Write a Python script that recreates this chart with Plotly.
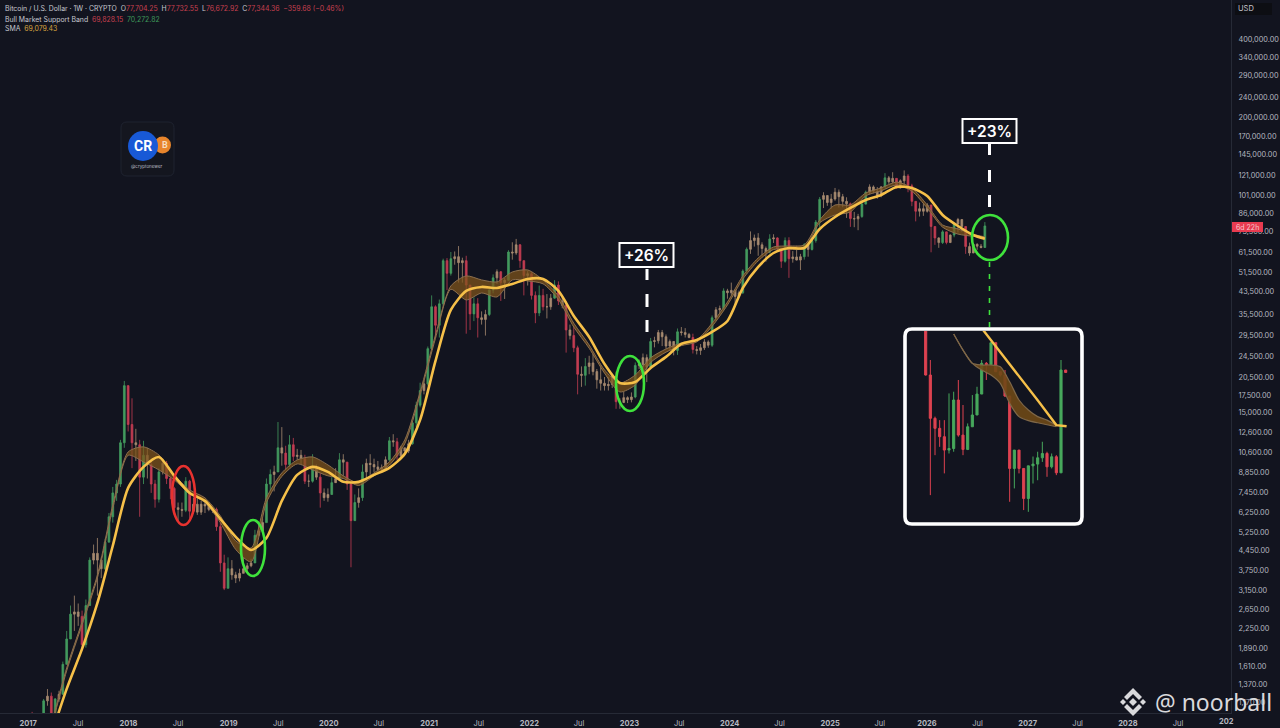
import math
import pandas as pd
import plotly.graph_objects as go

# ---------- main chart: two-week candles ----------
close_2017 = [1020, 830, 990, 1000, 1190, 1240, 1040, 1210, 1260, 1640, 2050, 2550, 2600, 2500, 1950, 2750, 4100, 4350, 4100, 3800, 4800, 6000, 7400, 8000, 11500, 19000]
high_2017 = [1060, 1080, 1000, 1020, 1210, 1320, 1280, 1220, 1300, 1680, 2200, 2750, 3000, 2800, 2630, 2900, 4200, 4700, 4980, 4200, 4950, 6200, 7800, 8300, 11800, 19800]
low_2017 = [950, 780, 820, 950, 990, 1140, 900, 1020, 1180, 1260, 1640, 2050, 2200, 2300, 1850, 1900, 2750, 3950, 3000, 3500, 3750, 4800, 5700, 6900, 7800, 11000]
close_2018 = [13500, 11500, 11300, 8500, 10300, 9500, 8000, 7000, 8900, 9600, 8400, 7700, 6500, 6400, 6350, 8200, 6300, 6700, 6250, 6700, 6600, 6400, 6400, 5500, 4000, 3200]
high_2018 = [17500, 17000, 13000, 11800, 11700, 11000, 9800, 8300, 9200, 10000, 9800, 8500, 7800, 6800, 6800, 8500, 8300, 7100, 7300, 6900, 6800, 6700, 6500, 6500, 5700, 4300]
low_2018 = [12700, 9200, 9800, 6000, 8000, 8400, 7400, 6500, 6800, 8700, 8000, 7000, 6100, 5800, 6000, 6250, 5900, 6200, 6100, 6100, 6200, 6300, 6200, 5300, 3700, 3150]
close_2019 = [3800, 3600, 3500, 3650, 3800, 3900, 4000, 5100, 5300, 5700, 8000, 8700, 8900, 11000, 10500, 9500, 11300, 10200, 10300, 10000, 8200, 8200, 9200, 8500, 7400, 7100]
high_2019 = [4200, 4100, 3700, 3800, 4200, 4000, 4150, 5350, 5650, 5900, 8400, 9100, 9400, 13800, 13200, 11200, 12300, 12000, 10900, 10800, 10350, 8700, 10400, 9500, 8800, 7700]
low_2019 = [3200, 3450, 3350, 3400, 3650, 3700, 3850, 4000, 5050, 5250, 5700, 7500, 7500, 8900, 9400, 9100, 9300, 9800, 9900, 9500, 8000, 7800, 8100, 8300, 6500, 6900]
close_2020 = [7300, 8100, 8400, 9900, 9700, 8000, 5800, 6800, 7100, 8900, 9600, 9500, 9300, 9100, 9250, 9900, 11700, 11600, 10250, 11000, 10700, 11400, 13700, 16000, 18200, 19300]
high_2020 = [7700, 8500, 9200, 10500, 10400, 9200, 8100, 7300, 7700, 9500, 10000, 10400, 10000, 9800, 9500, 10200, 12100, 12400, 12000, 11200, 11000, 11800, 13900, 16500, 19500, 19900]
low_2020 = [6850, 7300, 8200, 8300, 8600, 7600, 3850, 5800, 6500, 6900, 8200, 8600, 8900, 8900, 8900, 9150, 9800, 11100, 9900, 10000, 10350, 10500, 11300, 13200, 15700, 17600]
close_2021 = [26300, 38000, 32300, 39000, 57000, 51000, 58000, 59000, 56000, 57000, 46000, 35700, 39000, 34500, 34000, 35500, 44000, 49000, 51700, 47000, 48000, 61500, 61000, 65500, 57000, 50000]
high_2021 = [26800, 42000, 38500, 40500, 58000, 58300, 61500, 61800, 64800, 58500, 59500, 42000, 41300, 41000, 36500, 37000, 45500, 50500, 52800, 52000, 49000, 62500, 67000, 69000, 66000, 53500]
low_2021 = [19000, 26000, 28800, 29000, 38000, 44000, 50000, 55000, 47000, 47000, 30000, 31000, 33500, 29000, 32500, 29500, 35000, 42800, 46500, 40000, 40700, 47800, 57500, 60000, 53500, 42000]
close_2022 = [50800, 42000, 36000, 42000, 38000, 38000, 41000, 46000, 40000, 38500, 31000, 29500, 26500, 21000, 20800, 22500, 23200, 21500, 20000, 19400, 19000, 19200, 20600, 16500, 16400, 17100]
high_2022 = [52000, 51500, 43500, 45800, 44500, 42500, 42500, 48000, 47500, 42000, 40000, 32500, 32000, 27000, 22500, 24200, 24700, 25200, 22000, 22800, 20500, 20500, 21000, 21500, 17000, 18000]
low_2022 = [45800, 40500, 32900, 35000, 36800, 34300, 37000, 40800, 38600, 37500, 25400, 28500, 25500, 17600, 18800, 19000, 21000, 20800, 18500, 18200, 18200, 18200, 18600, 15500, 15500, 16300]
close_2023 = [16800, 17200, 22700, 22900, 24300, 22400, 28000, 28200, 30300, 29200, 26900, 28000, 25900, 30500, 30300, 29800, 29000, 26100, 25900, 26500, 27900, 27100, 34500, 37000, 37400, 43700]
high_2023 = [17300, 17900, 23300, 23900, 25200, 25000, 28900, 29200, 31000, 31000, 29800, 28500, 27800, 31400, 31800, 31500, 30200, 30000, 26900, 27400, 28600, 28300, 35200, 37900, 38400, 44700]
low_2023 = [16300, 16400, 17000, 22000, 21500, 19600, 22500, 26600, 27500, 26900, 26300, 25800, 24800, 24900, 29500, 29000, 28800, 25200, 25000, 24900, 26000, 26500, 26700, 33500, 35500, 36800]
close_2024 = [43000, 43900, 41600, 43000, 52000, 63000, 68000, 69600, 65500, 63400, 61500, 69000, 69600, 63200, 56700, 68000, 58000, 58900, 57300, 59000, 65600, 62900, 68000, 80000, 97700, 101000]
high_2024 = [44500, 47000, 44000, 43800, 52800, 64000, 73700, 71700, 72600, 67000, 64500, 71900, 71900, 70000, 63400, 69900, 70000, 62000, 65000, 60500, 66500, 66500, 69500, 81500, 99700, 104000]
low_2024 = [40800, 42200, 38500, 41000, 42500, 50500, 60500, 64500, 59500, 59600, 56500, 60800, 66600, 62000, 53500, 56000, 49000, 56000, 57100, 52500, 57500, 59000, 62300, 66800, 76500, 90500]
close_2025 = [95000, 98000, 104000, 100000, 96000, 94000, 82500, 82300, 84000, 93700, 104000, 109000, 105000, 101000, 109000, 118000, 114000, 117500, 108000, 115000, 120000, 110000, 96000, 88000, 90000, 88000]
high_2025 = [99500, 102500, 108000, 106500, 102500, 99500, 95000, 87500, 86000, 95700, 105500, 111500, 110500, 108800, 109700, 123000, 120000, 124000, 117000, 116500, 126000, 122000, 112000, 96000, 95000, 94000]
low_2025 = [92300, 90000, 96500, 91000, 91200, 83000, 76700, 76500, 74500, 83000, 93500, 102000, 103000, 98200, 99500, 107500, 112000, 112500, 107500, 107500, 110000, 104000, 92000, 80500, 84000, 84500]
close_2026 = [93000, 76970, 69590, 66790, 73420, 66870, 71370, 78690, 81820, 76970, 64510, 60950, 65820, 64710, 63980, 77344]
high_2026 = [94500, 93000, 77000, 70000, 74500, 73500, 71800, 79000, 83000, 82000, 77000, 66800, 66500, 66400, 66000, 80000]
low_2026 = [87000, 61340, 65500, 63800, 66000, 65800, 66500, 70000, 73000, 73500, 60500, 59500, 62500, 62700, 63500, 63900]

# ---------- main chart lines, sampled every eight weeks ----------
sma_line = [883, 1322, 1878, 2815, 4650, 7735, 9300, 10150, 8600, 7400, 6900, 5890, 5030, 4480, 4985, 6900, 8670, 9300, 8900, 8155, 8155, 8670, 9220, 10430, 14060, 23610, 36960, 43670, 45240, 44840, 46460, 48540, 48540, 43670, 35050, 29150, 23000, 19450, 19630, 22200, 24460, 27410, 28390, 30470, 33545, 44840, 53930, 60970, 63700, 63700, 75310, 83680, 90590, 97200, 101550, 108930, 107990, 100680, 85170, 77320, 71440, 69079]
band_upper = [964, 1590, 2378, 3600, 6656, 10610, 11090, 10336, 8670, 7600, 7084, 6050, 4857, 4560, 7084, 8825, 9890, 10154, 9467, 8597, 8084, 8825, 9717, 11790, 17980, 29680, 45640, 49840, 48120, 47280, 51610, 52530, 48120, 41800, 32890, 27170, 21810, 19450, 20860, 24270, 26230, 27650, 28390, 32890, 39640, 49840, 58370, 64290, 64860, 65430, 81500, 92980, 92980, 103320, 107990, 113760, 107990, 92980, 78000, 75310, 71800, 70272]
band_lower = [940, 1550, 2320, 3510, 6450, 10300, 9717, 9060, 8300, 7350, 6800, 5700, 4500, 4038, 6800, 8550, 9550, 9060, 8600, 8400, 7900, 8600, 9450, 11400, 17500, 28800, 44300, 40350, 42900, 41430, 48120, 47700, 46500, 40500, 31800, 26400, 21200, 17980, 19110, 23300, 25500, 27000, 27900, 32000, 38600, 48500, 56900, 62900, 63000, 63500, 79500, 85170, 87430, 100800, 105300, 110900, 105000, 90500, 76500, 72000, 70600, 69828]

# ---------- enlarged view: weekly candles ----------
inset_open = [88000, 76970, 70920, 69590, 68500, 66790, 66990, 73420, 68710, 66870, 69800, 71370, 74250, 78690, 78500, 81820, 77450, 76970, 73970, 64510, 66790, 64510, 60950, 64830, 65040, 65820, 66360, 64710, 65950, 63980, 77700]
inset_close = [76970, 70920, 69590, 68500, 66790, 66990, 73420, 68710, 66870, 69800, 71370, 74250, 78690, 78500, 81820, 77450, 76970, 73970, 64510, 66790, 64510, 60950, 64830, 65040, 65820, 66360, 64710, 65950, 63980, 77700, 77344]
inset_high = [88000, 79190, 71150, 70680, 70680, 74340, 74580, 76250, 72730, 70240, 74110, 75280, 79190, 78890, 81820, 81820, 77450, 77700, 73970, 66790, 66790, 64510, 64830, 65980, 66580, 67850, 66580, 66360, 66150, 79190, 77700]
inset_low = [76900, 61340, 66150, 67200, 63910, 66360, 66580, 68500, 66150, 66790, 69800, 71370, 74250, 76250, 78500, 77450, 76750, 73850, 60570, 62120, 63910, 59630, 59430, 62700, 63090, 65310, 63500, 64510, 63700, 63980, 77320]
inset_sma_pos = [12, 16, 20, 24, 28, 30.2]
inset_sma = [84100, 80390, 76790, 73380, 70020, 69860]
inset_band_pos = [6, 8, 10, 12, 14, 16, 18, 20, 22, 24, 26, 28]
inset_band_upper = [83180, 80690, 78690, 78440, 78440, 78190, 76000, 73420, 72040, 71150, 70680, 70020]
inset_band_lower = [83180, 80690, 78690, 77700, 76970, 75760, 72950, 71150, 70610, 70330, 70070, 69800]

# ---------- axis labels ----------
price_ticks = [400000, 340000, 290000, 240000, 200000, 170000, 145000, 121000, 101000, 86000, 73500, 61500, 51500, 43500, 35500, 29500, 24500, 20500, 17500, 15000, 12600, 10600, 8850, 7450, 6250, 5250, 4450, 3750, 3150, 2650, 2250, 1890, 1610, 1370, 1170]
date_ticks = ["2017-01-01", "2017-07-01", "2018-01-01", "2018-07-01", "2019-01-01", "2019-07-01", "2020-01-01", "2020-07-01", "2021-01-01", "2021-07-01", "2022-01-01", "2022-07-01", "2023-01-01", "2023-07-01", "2024-01-01", "2024-07-01", "2025-01-01", "2025-07-01", "2025-12-20", "2026-06-22", "2026-12-22", "2027-06-22", "2027-12-22", "2028-06-22"]
date_labels = ["2017", "Jul", "2018", "Jul", "2019", "Jul", "2020", "Jul", "2021", "Jul", "2022", "Jul", "2023", "Jul", "2024", "Jul", "2025", "Jul", "2026", "Jul", "2027", "Jul", "2028", "Jul"]

close = close_2017 + close_2018 + close_2019 + close_2020 + close_2021 + close_2022 + close_2023 + close_2024 + close_2025 + close_2026
high = high_2017 + high_2018 + high_2019 + high_2020 + high_2021 + high_2022 + high_2023 + high_2024 + high_2025 + high_2026
low = low_2017 + low_2018 + low_2019 + low_2020 + low_2021 + low_2022 + low_2023 + low_2024 + low_2025 + low_2026
open_ = [960] + close[:-1]
dates = list(pd.date_range("2017-01-01", periods=len(close), freq="14D"))
line_dates = list(pd.date_range("2017-03-26", periods=len(sma_line) - 1, freq="56D")) + [dates[-1]]

BG = "#12141F"
AXIS = "#262A36"
TEXT = "#B6B8C0"
UP, DOWN = "#439A5E", "#C23C52"
CHOP = "#A78A70"
YELLOW = "#F6C049"
TAN = "#8C6F4E"
FILL = "rgba(128,84,26,0.72)"
GREEN = "#3FE23C"
WHITE = "#FFFFFF"


def X(px):
    return px / 1280


def Y(py):
    return 1 - py / 728


fig = go.Figure()


def add_candles(indices, up, down):
    fig.add_trace(go.Candlestick(x=[dates[i] for i in indices], open=[open_[i] for i in indices], high=[high[i] for i in indices],
                                 low=[low[i] for i in indices], close=[close[i] for i in indices],
                                 increasing=dict(line=dict(color=up, width=0.8), fillcolor=up),
                                 decreasing=dict(line=dict(color=down, width=0.8), fillcolor=down),
                                 whiskerwidth=0, hoverinfo="skip", showlegend=False))


# small-bodied candles read as a muted tan in the picture
small = [i for i in range(len(close)) if abs(close[i] - open_[i]) / open_[i] < 0.08]
large = [i for i in range(len(close)) if i not in small]
add_candles(large, UP, DOWN)
add_candles(small, CHOP, CHOP)

fig.add_trace(go.Scatter(x=line_dates, y=band_upper, mode="lines", hoverinfo="skip", showlegend=False,
                         line=dict(color=TAN, width=1, shape="spline", smoothing=0.7)))
fig.add_trace(go.Scatter(x=line_dates, y=band_lower, mode="lines", hoverinfo="skip", showlegend=False, fill="tonexty", fillcolor=FILL,
                         line=dict(color=TAN, width=1, shape="spline", smoothing=0.7)))
fig.add_trace(go.Scatter(x=line_dates, y=sma_line, mode="lines", hoverinfo="skip", showlegend=False,
                         line=dict(color=YELLOW, width=2.6, shape="spline", smoothing=0.7)))

inset_pos = list(range(len(inset_close)))
fig.add_trace(go.Candlestick(x=inset_pos, open=inset_open, high=inset_high, low=inset_low, close=inset_close,
                             xaxis="x2", yaxis="y2", whiskerwidth=0, hoverinfo="skip", showlegend=False,
                             increasing=dict(line=dict(color="#47A85C", width=1), fillcolor="#47A85C"),
                             decreasing=dict(line=dict(color="#DE4250", width=1), fillcolor="#DE4250")))
fig.add_trace(go.Scatter(x=inset_band_pos, y=inset_band_upper, mode="lines", xaxis="x2", yaxis="y2", hoverinfo="skip", showlegend=False,
                         line=dict(color="#7E6748", width=1.2, shape="spline", smoothing=0.7)))
fig.add_trace(go.Scatter(x=inset_band_pos, y=inset_band_lower, mode="lines", xaxis="x2", yaxis="y2", hoverinfo="skip", showlegend=False,
                         fill="tonexty", fillcolor="rgba(110,72,22,0.9)",
                         line=dict(color="#7E6748", width=1.2, shape="spline", smoothing=0.7)))
fig.add_trace(go.Scatter(x=inset_sma_pos, y=inset_sma, mode="lines", xaxis="x2", yaxis="y2", hoverinfo="skip", showlegend=False,
                         line=dict(color=YELLOW, width=2.4)))


def ellipse(x0, y0, x1, y1, color):
    return dict(type="circle", xref="paper", yref="paper", x0=X(x0), x1=X(x1), y0=Y(y1), y1=Y(y0),
                line=dict(color=color, width=2.6), layer="above")


def vline(x, y0, y1, color, width, dash="solid"):
    return dict(type="line", xref="paper", yref="paper", x0=X(x), x1=X(x), y0=Y(y0), y1=Y(y1),
                line=dict(color=color, width=width, dash=dash), layer="above")


def box(x0, y0, x1, y1, fill, border, width):
    return dict(type="rect", xref="paper", yref="paper", x0=X(x0), x1=X(x1), y0=Y(y1), y1=Y(y0),
                fillcolor=fill, line=dict(color=border, width=width), layer="above")


def poly(points, fill):
    path = "M " + " L ".join(f"{X(a):.5f},{Y(b):.5f}" for a, b in points) + " Z"
    return dict(type="path", xref="paper", yref="paper", path=path, fillcolor=fill, line=dict(width=0), layer="above")


def rounded(x0, y0, x1, y1, r):
    a, b, c, d = X(x0), Y(y0), X(x1), Y(y1)
    rx, ry = X(r), r / 728
    return (f"M {a+rx:.5f},{b:.5f} L {c-rx:.5f},{b:.5f} Q {c:.5f},{b:.5f} {c:.5f},{b-ry:.5f} "
            f"L {c:.5f},{d+ry:.5f} Q {c:.5f},{d:.5f} {c-rx:.5f},{d:.5f} "
            f"L {a+rx:.5f},{d:.5f} Q {a:.5f},{d:.5f} {a:.5f},{d+ry:.5f} "
            f"L {a:.5f},{b-ry:.5f} Q {a:.5f},{b:.5f} {a+rx:.5f},{b:.5f} Z")


WM = "#D9D9DC"
shapes = [
    dict(type="path", xref="paper", yref="paper", path=rounded(905, 329, 1082, 524, 7), line=dict(color=WHITE, width=3.6), layer="above"),
    ellipse(172, 466, 195, 525, "#E8322F"),
    ellipse(241, 520, 265, 576, GREEN),
    ellipse(616, 356, 644, 411, GREEN),
    ellipse(972, 215, 1008, 260, GREEN),
    box(619.5, 243, 673.5, 267, BG, WHITE, 2),
    box(962.5, 119, 1016.5, 143, BG, WHITE, 2),
    vline(647, 269, 280, WHITE, 3), vline(647, 294, 307, WHITE, 3), vline(647, 320, 332, WHITE, 3),
    vline(989.5, 144, 155, WHITE, 3), vline(989.5, 170, 182, WHITE, 3), vline(989.5, 195, 207, WHITE, 3),
    vline(989.5, 262, 327, GREEN, 1.6, "5px,7px"),
    box(1235, 3, 1272, 15, "#0D0E13", "#0D0E13", 0),
    box(1232, 222, 1263, 232, "#E83B50", "#E83B50", 0),
    dict(type="path", xref="paper", yref="paper", path=rounded(121, 122, 174, 176, 6), fillcolor="#14161F", line=dict(color="#1F2330", width=1), layer="above"),
    dict(type="circle", xref="paper", yref="paper", x0=X(154), x1=X(171), y0=Y(153.5), y1=Y(136.5), fillcolor="#E8852C", line=dict(width=0), layer="above"),
    dict(type="circle", xref="paper", yref="paper", x0=X(128), x1=X(158), y0=Y(161), y1=Y(131), fillcolor="#1859D6", line=dict(width=0), layer="above"),
    # exchange mark beside the signature
    poly([(1133, 688), (1142, 697), (1139, 700), (1133, 694), (1127, 700), (1124, 697)], WM),
    poly([(1133, 716), (1142, 707), (1139, 704), (1133, 710), (1127, 704), (1124, 707)], WM),
    poly([(1123, 699), (1126, 702), (1123, 705), (1120, 702)], WM),
    poly([(1143, 699), (1146, 702), (1143, 705), (1140, 702)], WM),
    poly([(1133, 698), (1137, 702), (1133, 706), (1129, 702)], WM),
]


def note(x, y, text, size=7.5, color=TEXT, anchor="left", font="Inter", weight=None):
    f = dict(family=font, size=size, color=color)
    if weight:
        f["weight"] = weight
    return dict(xref="paper", yref="paper", x=X(x), y=Y(y), text=text, showarrow=False, xanchor=anchor, yanchor="middle",
                align=anchor, font=f)


def c(color, text):
    return f'<span style="color:{color}">{text}</span>'


RED = "#C8404F"
LEG = "#C6C8CF"
annotations = [
    note(3, 9, f"Bitcoin / U.S. Dollar · 1W · CRYPTO  O{c(RED,'77,704.25')}  H{c(RED,'77,732.55')}  L{c(RED,'76,672.92')}  C{c(RED,'77,344.36')}  {c(RED,'−359.68 (−0.46%)')}", 6.9, LEG),
    note(3, 19, f"Bull Market Support Band  {c(RED,'69,828.15')}  {c('#3F9A5A','70,272.82')}", 6.9, LEG),
    note(3, 29, f"SMA  {c('#D9A53F','69,079.43')}", 6.9, LEG),
    note(646.5, 255.5, "+26%", 15.5, WHITE, "center", "Inter", 600),
    note(989.5, 131.5, "+23%", 15.5, WHITE, "center", "Inter", 600),
    note(1246, 9, "USD", 7.5, LEG, "center"),
    note(1247.5, 227, "6d 22h", 7, "#F6C7CC", "center"),
    note(1226, 721, "<b>202</b>", 7.5, TEXT, "center"),
    note(143, 146, "<b>CR</b>", 14, WHITE, "center", "Roboto"),
    note(165, 145, "<b>B</b>", 9, "#F6DDBF", "center", "Roboto"),
    note(147, 167, "@cryptonewer", 4.5, "#B8BAC2", "center"),
    note(1153, 702, "@ noorball", 23, WM, "left", "Noto Sans"),
]

fig.update_layout(
    width=1280, height=728, autosize=False,
    margin=dict(l=0, r=0, t=0, b=0),
    paper_bgcolor=BG, plot_bgcolor=BG, showlegend=False, hovermode=False, boxgap=0.35,
    font=dict(family="Inter", size=7.5, color=TEXT),
    xaxis=dict(domain=[0, X(1231)], type="date", range=["2016-09-20", "2029-01-01"], rangeslider=dict(visible=False),
               showgrid=False, zeroline=False, showline=True, linecolor=AXIS, linewidth=1, ticks="outside", ticklen=3, tickcolor=BG,
               tickmode="array", tickvals=date_ticks,
               ticktext=[f"<b>{t}</b>" if t != "Jul" else t for t in date_labels],
               tickfont=dict(family="Inter", size=7.5, color=TEXT)),
    yaxis=dict(domain=[Y(713), 1], type="log", range=[3.0291, 5.7509], side="right",
               showgrid=False, zeroline=False, showline=True, linecolor=AXIS, linewidth=1, ticks="outside", ticklen=5, tickcolor=BG,
               tickmode="array", tickvals=price_ticks, ticktext=[f"{p:,.2f}" for p in price_ticks],
               tickfont=dict(family="Inter", size=7.3, color=TEXT)),
    xaxis2=dict(domain=[X(907), X(1080)], range=[-4.0, 33.07], visible=False, rangeslider=dict(visible=False), anchor="y2"),
    yaxis2=dict(domain=[Y(522), Y(331)], type="log", range=[math.log10(58300), math.log10(83650)], visible=False, anchor="x2"),
    shapes=shapes, annotations=annotations,
)

fig.write_html("out.html", config={"displayModeBar": False, "staticPlot": True},
               post_script="document.body.style.margin='0';document.body.style.overflow='hidden';document.body.style.background='#12141F';")
